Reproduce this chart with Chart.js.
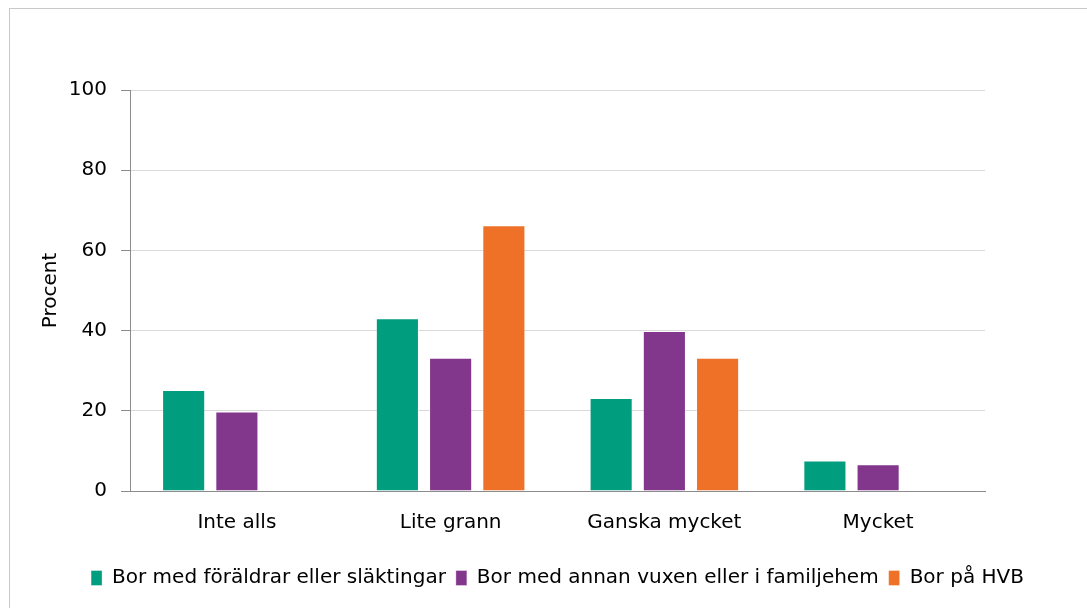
<!DOCTYPE html>
<html>
<head>
<meta charset="utf-8">
<script src="https://cdn.jsdelivr.net/npm/chart.js@4.4.1/dist/chart.umd.min.js"></script>
<style>
  html, body { margin: 0; padding: 0; background: #fff; }
  #wrap { position: relative; width: 1087px; height: 608px; overflow: hidden; }
  #frame { position: absolute; left: 9px; top: 8px; width: 1200px; height: 700px; border: 1px solid #c8c8c8; box-sizing: border-box; pointer-events: none; }
  canvas { position: absolute; left: 0; top: 0; }
</style>
</head>
<body>
<div id="wrap">
  <canvas id="c" width="1087" height="608"></canvas>
  <div id="frame"></div>
</div>
<script>
const categories = ['Inte alls', 'Lite grann', 'Ganska mycket', 'Mycket'];
const seriesNames = ['Bor med föräldrar eller släktingar', 'Bor med annan vuxen eller i familjehem', 'Bor på HVB'];
const foraldrar = [25.2, 43.1, 23.2, 7.6];
const annanVuxen = [19.8, 33.2, 39.9, 6.7];
const hvb = [null, 66.3, 33.2, null];
const yTicks = [0, 20, 40, 60, 80, 100];
const colors = ['#009e7f', '#82368c', '#ee7127'];

const FONT = "'DejaVu Sans', Verdana, sans-serif";

const shiftLegend = {
  id: 'shiftLegend',
  afterLayout(chart) {
    if (chart.legend) { chart.legend.left += 50; chart.legend.right += 50; }
  }
};

new Chart(document.getElementById('c'), {
  type: 'bar',
  data: {
    labels: categories,
    datasets: [foraldrar, annanVuxen, hvb].map((d, i) => ({
      label: seriesNames[i],
      data: d,
      backgroundColor: colors[i],
      borderColor: 'rgba(255,255,255,0.35)',
      borderWidth: 1,
      barPercentage: 0.81,
      categoryPercentage: 0.747
    }))
  },
  plugins: [shiftLegend],
  options: {
    responsive: false,
    animation: false,
    layout: { padding: { left: 30, right: 102, top: 90, bottom: 10 } },
    plugins: {
      tooltip: { enabled: false },
      legend: {
        position: 'bottom',
        labels: {
          font: { family: FONT, size: 20 },
          color: '#000',
          boxWidth: 11,
          boxHeight: 15,
          padding: 10
        }
      }
    },
    scales: {
      x: {
        grid: { display: false, drawTicks: false },
        border: { display: true, color: '#8c8c8c', width: 1 },
        ticks: { font: { family: FONT, size: 20 }, color: '#000', padding: 20 },
        afterFit: s => { s.height = 67; }
      },
      y: {
        min: 0, max: 100,
        afterBuildTicks: s => { s.ticks = yTicks.map(v => ({ value: v })); },
        grid: { color: '#d9d9d9', lineWidth: 1, tickColor: '#8c8c8c', tickLength: 9 },
        border: { display: true, color: '#8c8c8c', width: 1 },
        ticks: { font: { family: FONT, size: 20 }, color: '#000', padding: 14 },
        title: { display: true, text: 'Procent', font: { family: FONT, size: 20 }, color: '#000', padding: { top: 9, bottom: 0 } },
        afterFit: s => { s.width = 100; }
      }
    }
  }
});
</script>
</body>
</html>
